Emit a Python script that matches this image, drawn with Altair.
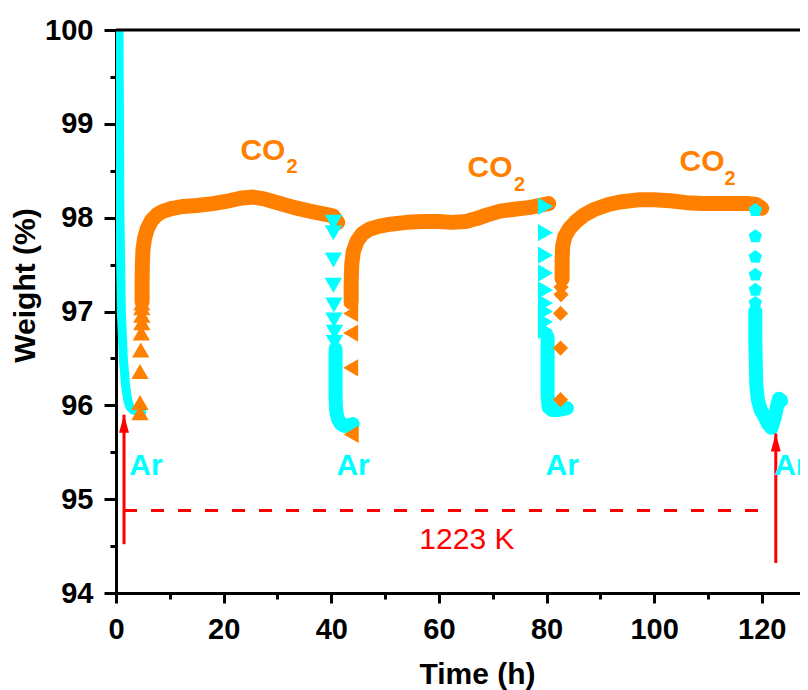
import altair as alt
import pandas as pd

ORANGE = "#FF8000"
CYAN = "#00FFFF"
RED = "#FF0000"
FONT = "Liberation Sans"
XMAX = 127.1

# ---------------- data ----------------
# Ar step 1 (initial drop)
ar1_t = [0.55, 0.65, 0.74, 0.99, 1.36, 1.8, 2.2, 2.6, 3.2, 4.1, 4.8]
ar1_w = [100.0, 99.0, 98.0, 97.0, 96.5, 96.2, 96.05, 95.98, 95.95, 95.93, 95.93]

# CO2 step 1 (up triangles)
co2a_mt = [4.46, 4.46, 4.46, 4.6, 4.7, 4.8, 4.8, 4.8, 4.8]
co2a_mw = [95.92, 96.03, 96.36, 96.59, 96.77, 96.88, 96.96, 97.04, 97.09]
co2a_t = [4.85, 4.85, 4.9, 5.0, 5.3, 5.8, 6.6, 7.6, 8.8, 10.5, 12.5, 15, 18, 21,
          23.5, 25.5, 27.5, 30, 33, 36, 38.5, 40.3, 41.2]
co2a_w = [97.1, 97.3, 97.5, 97.65, 97.78, 97.88, 97.97, 98.03, 98.07, 98.1, 98.12,
          98.13, 98.15, 98.18, 98.21, 98.22, 98.2, 98.16, 98.11, 98.07, 98.04, 98.02, 97.95]

# Ar step 2 (down triangles)
ar2_mt = [40.4, 40.4, 40.4, 40.4, 40.5, 40.5, 40.6, 40.6]
ar2_mw = [97.95, 97.84, 97.55, 97.28, 97.07, 96.91, 96.78, 96.67]
ar2_t = [40.8, 40.8, 40.8, 40.9, 41.2, 41.8, 42.6, 43.5, 44.0]
ar2_w = [96.6, 96.3, 96.1, 95.95, 95.86, 95.8, 95.78, 95.79, 95.8]

# CO2 step 2 (left triangles)
co2b_mt = [43.7, 43.6, 43.6, 43.6, 43.6]
co2b_mw = [95.69, 96.4, 96.77, 96.98, 97.07]
co2b_t = [43.7, 43.7, 43.8, 44.1, 44.8, 45.8, 47.2, 49, 51, 54, 57, 60, 62.5, 65,
          67, 69, 71.4, 74, 77, 79.5, 80.4]
co2b_w = [97.1, 97.3, 97.5, 97.64, 97.75, 97.83, 97.88, 97.91, 97.93, 97.95, 97.96,
          97.96, 97.95, 97.96, 97.99, 98.03, 98.07, 98.09, 98.11, 98.14, 98.15]

# Ar step 3 (right triangles)
ar3_mt = [79.8, 79.8, 79.8, 79.8, 79.8, 79.8, 79.8, 79.8, 79.8]
ar3_mw = [98.12, 97.84, 97.6, 97.41, 97.23, 97.09, 97.0, 96.89, 96.8]
ar3_t = [80.2, 80.2, 80.2, 80.4, 81.0, 82.0, 83.0, 83.8]
ar3_w = [96.73, 96.4, 96.1, 95.98, 95.95, 95.95, 95.96, 95.97]

# CO2 step 3 (diamonds)
co2c_mt = [82.6, 82.6, 82.6, 82.7, 82.7]
co2c_mw = [96.06, 96.61, 96.98, 97.18, 97.26]
co2c_t = [82.9, 82.9, 83.0, 83.4, 84.2, 85.5, 87, 89, 91.5, 94, 97, 100, 103, 106,
          109, 112, 115, 117.5, 119, 120]
co2c_w = [97.35, 97.55, 97.7, 97.8, 97.88, 97.96, 98.03, 98.09, 98.14, 98.17, 98.19,
          98.19, 98.18, 98.16, 98.15, 98.15, 98.15, 98.15, 98.14, 98.1]

# Ar step 4 (pentagons)
ar4_mt = [118.8, 118.8, 118.8, 118.8, 118.8, 118.8]
ar4_mw = [98.08, 97.8, 97.58, 97.39, 97.23, 97.09]
ar4_t = [118.8, 118.8, 118.9, 119.0, 119.3, 119.8, 120.5, 121.2, 121.8, 122.3,
         122.8, 123.2, 123.6]
ar4_w = [97.0, 96.7, 96.4, 96.2, 96.05, 95.95, 95.88, 95.8, 95.76, 95.85, 95.98,
         96.07, 96.05]

# annotations
co_t = [27.3, 69.5, 108.9]
co_w = [98.71, 98.53, 98.59]
sub_t = [32.7, 75.0, 114.1]
sub_w = [98.54, 98.35, 98.41]
ar_t = [5.58, 44.05, 82.9, 125.4]
ar_w = [95.35, 95.35, 95.35, 95.35]
temp_t = [65.2]
temp_w = [94.56]
temp_label = ["1223 K"]
dash_t = [1.49, 120.3]
dash_w = [94.88, 94.88]
arrow_t = [1.49, 122.6]
arrow_base = [94.52, 94.32]
arrow_tip = [95.9, 95.70]

# ---------------- chart ----------------
xscale = alt.Scale(domain=[0, XMAX], nice=False, zero=False)
yscale = alt.Scale(domain=[94, 100], nice=False, zero=False)

common_axis = dict(grid=False, domainColor="black", domainWidth=3, tickColor="black",
                   tickWidth=3, labelColor="black", labelFont=FONT, labelFontSize=29,
                   labelFontWeight="bold", titleFont=FONT, titleFontSize=30,
                   titleFontWeight="bold", titleColor="black", labelFlush=False,
                   labelOverlap=False, titleAlign="center", titleBaseline="middle")

xaxis = alt.Axis(title="Time (h)", values=list(range(0, 121, 10)),
                 labelExpr="datum.value % 20 === 0 ? format(datum.value, 'd') : ''",
                 tickSize={"condition": {"test": "datum.value % 20 === 0", "value": 10}, "value": 6},
                 labelPadding=12, titleX=361, titleY=81, **common_axis)
yaxis = alt.Axis(title="Weight (%)", values=[94 + 0.5 * i for i in range(13)],
                 labelExpr="datum.value % 1 === 0 ? format(datum.value, 'd') : ''",
                 tickSize={"condition": {"test": "datum.value % 1 === 0", "value": 12}, "value": 6},
                 labelPadding=11, titleX=-91, titleY=255, titleAngle=270, **common_axis)


def X(f="t"):
    return alt.X(f"{f}:Q", scale=xscale, axis=xaxis)


def Y(f="w"):
    return alt.Y(f"{f}:Q", scale=yscale, axis=yaxis)


def df(t, w):
    return pd.DataFrame({"t": t, "w": w, "i": list(range(len(t)))})


def line(t, w, color, width, clip=False):
    return alt.Chart(df(t, w)).mark_line(color=color, strokeWidth=width, strokeCap="round",
                                         strokeJoin="round", clip=clip).encode(
        x=X(), y=Y(), order=alt.Order("i:Q"))


def pts(t, w, color, shape, size=300):
    return alt.Chart(df(t, w)).mark_point(filled=True, color=color, shape=shape, size=size,
                                          opacity=1, strokeWidth=0).encode(x=X(), y=Y())


PENTAGON = "M0,-1L0.951,-0.309L0.588,0.809L-0.588,0.809L-0.951,-0.309Z"
ARROWHEAD = "M0,0L0.55,2L-0.55,2Z"

layers = [
    line(ar1_t, ar1_w, CYAN, 9, clip=True),
    pts(co2a_mt, co2a_mw, ORANGE, "triangle-up"),
    line(co2a_t, co2a_w, ORANGE, 15),
    pts(ar2_mt, ar2_mw, CYAN, "triangle-down"),
    line(ar2_t, ar2_w, CYAN, 14),
    pts(co2b_mt, co2b_mw, ORANGE, "triangle-left"),
    line(co2b_t, co2b_w, ORANGE, 15),
    pts(ar3_mt, ar3_mw, CYAN, "triangle-right"),
    line(ar3_t, ar3_w, CYAN, 14),
    pts(co2c_mt, co2c_mw, ORANGE, "diamond", size=230),
    line(co2c_t, co2c_w, ORANGE, 15),
    pts(ar4_mt, ar4_mw, CYAN, PENTAGON, size=200),
    line(ar4_t, ar4_w, CYAN, 14),
]

# dashed temperature line
layers.append(alt.Chart(df(dash_t, dash_w)).mark_line(color=RED, strokeWidth=3, strokeDash=[13, 14]).encode(
    x=X(), y=Y(), order=alt.Order("i:Q")))

# arrows
arr_df = pd.DataFrame({"t": arrow_t, "w": arrow_base, "tip": arrow_tip})
layers.append(alt.Chart(arr_df).mark_rule(color=RED, strokeWidth=3).encode(
    x=X(), y=Y(), y2=alt.Y2("tip:Q")))
layers.append(alt.Chart(arr_df).mark_point(filled=True, color=RED, shape=ARROWHEAD, size=324,
                                           opacity=1, strokeWidth=0).encode(x=X(), y=Y("tip")))

# labels
layers.append(alt.Chart(pd.DataFrame({"t": co_t, "w": co_w, "s": ["CO"] * 3})).mark_text(
    font=FONT, fontSize=30, fontWeight="bold", color=ORANGE, align="center", baseline="middle").encode(
    x=X(), y=Y(), text="s:N"))
layers.append(alt.Chart(pd.DataFrame({"t": sub_t, "w": sub_w, "s": ["2"] * 3})).mark_text(
    font=FONT, fontSize=20, fontWeight="bold", color=ORANGE, align="center", baseline="middle").encode(
    x=X(), y=Y(), text="s:N"))
layers.append(alt.Chart(pd.DataFrame({"t": ar_t, "w": ar_w, "s": ["Ar"] * 4})).mark_text(
    font=FONT, fontSize=30, fontWeight="bold", color=CYAN, align="center", baseline="middle").encode(
    x=X(), y=Y(), text="s:N"))
layers.append(alt.Chart(pd.DataFrame({"t": temp_t, "w": temp_w, "s": temp_label})).mark_text(
    font=FONT, fontSize=30, color=RED, align="center", baseline="middle").encode(
    x=X(), y=Y(), text="s:N"))

# top frame line
layers.append(alt.Chart(pd.DataFrame({"t": [0], "t1": [XMAX], "w": [100]})).mark_rule(
    color="black", strokeWidth=3).encode(x=X(), x2=alt.X2("t1:Q"), y=Y()))

chart = alt.layer(*layers).properties(
    width=684, height=563,
    padding={"left": 108, "top": 22, "right": 0, "bottom": 97},
    autosize=alt.AutoSizeParams(type="none"),
    background="white",
).configure_view(stroke=None)

chart.save("out.html", embed_options={"renderer": "svg", "actions": False})
